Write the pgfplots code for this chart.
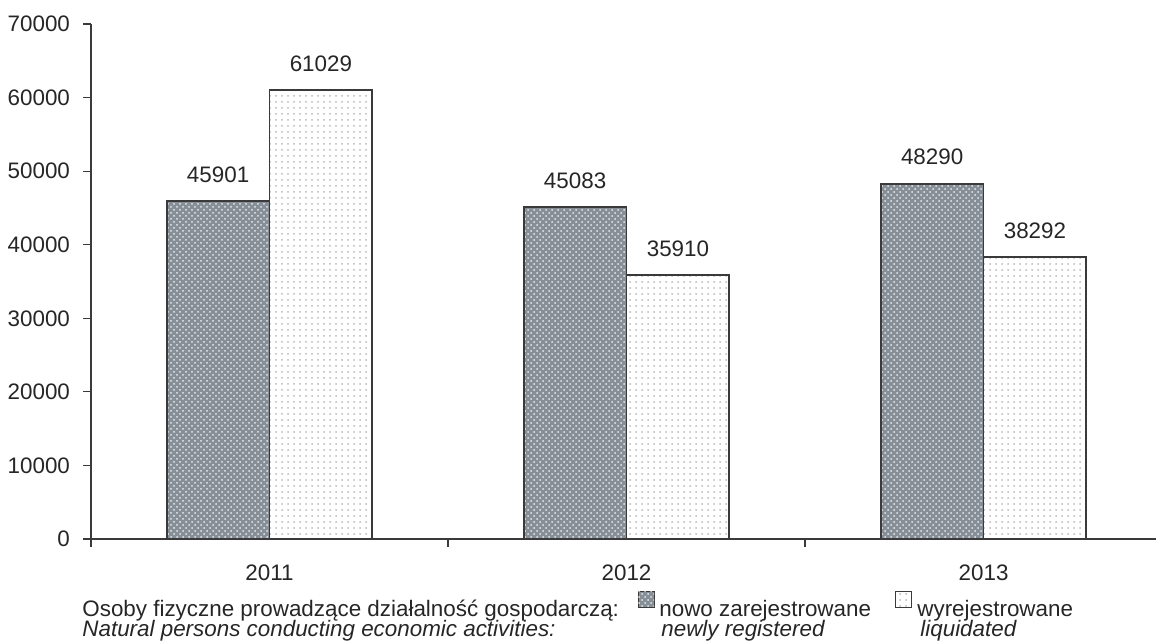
\documentclass[border=0pt]{standalone}
\usepackage{fontspec}
\setmainfont{Liberation Sans}
\usepackage{pgfplots}
\pgfplotsset{compat=1.18}
\usetikzlibrary{patterns}
\definecolor{txt}{HTML}{262626}
\definecolor{axc}{HTML}{3A3A3A}
\definecolor{darkfill}{HTML}{868F98}
\newcommand{\fs}{\fontsize{11.2}{13}\selectfont}
\tikzset{
  newstyle/.style={fill=darkfill, postaction={pattern=crosshatch dots, pattern color=white!80!darkfill}},
  liqstyle/.style={fill=white, postaction={pattern=dots, pattern color=gray!55}},
}
\begin{document}
\begin{tikzpicture}[font=\fs, text=txt]
\path[use as bounding box] (0,0) rectangle (578pt,321pt);
\begin{axis}[
  at={(45.5pt,51.5pt)}, anchor=south west,
  scale only axis, width=532.5pt, height=257.5pt,
  xmin=-0.5, xmax=2.483, ymin=0, ymax=70000,
  axis lines*=left,
  axis line style={axc, line width=0.6pt},
  ytick={0,10000,...,70000},
  scaled y ticks=false,
  /pgf/number format/.cd, 1000 sep={}, assume math mode=true,
  /pgfplots/.cd,
  tick align=outside, major tick length=4pt,
  tick style={axc, line width=0.6pt},
  xtick={-0.5,0.5,1.5}, xticklabels={},
  extra x ticks={0,1,2}, extra x tick labels={2011,2012,2013},
  extra x tick style={major tick length=0pt},
  tick label style={font=\fs, text=txt},
  yticklabel style={xshift=-3pt},
  xticklabel style={yshift=-9.5pt},
  ybar, bar width=0.288,
  nodes near coords,
  every node near coord/.append style={font=\fs, text=txt, yshift=5.5pt,
     /pgf/number format/1000 sep={}, /pgf/number format/assume math mode=true},
  clip=false,
]
\addplot[draw=axc, line width=0.9pt, newstyle, bar shift=-0.144] coordinates {(0,45901) (1,45083) (2,48290)};
\addplot[draw=axc, line width=0.9pt, liqstyle, bar shift=0.144] coordinates {(0,61029) (1,35910) (2,38292)};
\end{axis}
\node[anchor=base west, inner sep=0] at (41pt,12.5pt) {Osoby fizyczne prowadzące działalność gospodarczą:};
\node[anchor=base west, inner sep=0] at (41pt,2.5pt) {\itshape Natural persons conducting economic activities:};
\draw[axc, line width=0.5pt, newstyle] (319pt,17pt) rectangle (327pt,25pt);
\node[anchor=base west, inner sep=0] at (329.5pt,12.5pt) {nowo zarejestrowane};
\node[anchor=base west, inner sep=0] at (330.5pt,2.5pt) {\itshape newly registered};
\draw[axc, line width=0.5pt, liqstyle] (447.5pt,17pt) rectangle (455.5pt,25pt);
\node[anchor=base west, inner sep=0] at (458.5pt,12.5pt) {wyrejestrowane};
\node[anchor=base west, inner sep=0] at (460pt,2.5pt) {\itshape liquidated};
\end{tikzpicture}
\end{document}
